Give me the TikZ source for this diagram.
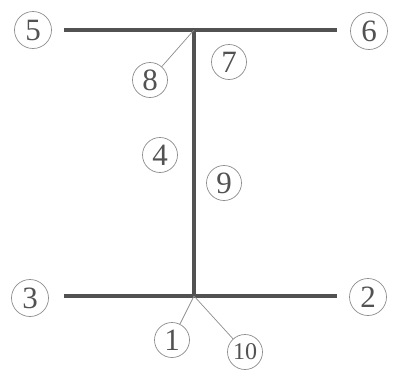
\documentclass[tikz,border=0pt]{standalone}
\usepackage{fontspec}
\setmainfont{Liberation Serif}
\begin{document}
\begin{tikzpicture}[x=1pt,y=-1pt,
  bar/.style={draw=black!68,line width=3.5pt},
  lead/.style={draw=black!45,line width=0.7pt},
  lbl/.style={circle,draw=black!45,line width=0.7pt,minimum size=37pt,inner sep=0pt,text=black!68,font=\fontsize{31}{31}\selectfont},
  slbl/.style={lbl,minimum size=35pt}]
\useasboundingbox (0,0) rectangle (393,378);
\coordinate (TL) at (64,30);
\coordinate (TR) at (337,30);
\coordinate (TC) at (194,30);
\coordinate (BL) at (64,296);
\coordinate (BR) at (337,296);
\coordinate (BC) at (194,296);
\draw[bar] (TL) -- (TR);
\draw[bar] (BL) -- (BR);
\draw[bar] (TC) -- (BC);
\node[lbl] (n5) at (33,30) {5};
\node[lbl] (n6) at (369,31) {6};
\node[lbl] (n3) at (30,298) {3};
\node[lbl] (n2) at (368,297) {2};
\node[slbl] (n8) at (150,80) {8};
\node[slbl] (n7) at (229,62) {7};
\node[slbl] (n4) at (160,155) {4};
\node[slbl] (n9) at (224,183) {9};
\node[slbl] (n1) at (172,340) {1};
\node[slbl,font=\fontsize{24}{24}\selectfont] (n10) at (245,352) {10};
\draw[lead] (TC) -- (n8);
\draw[lead] (BC) -- (n1);
\draw[lead] (BC) -- (n10);
\end{tikzpicture}
\end{document}
